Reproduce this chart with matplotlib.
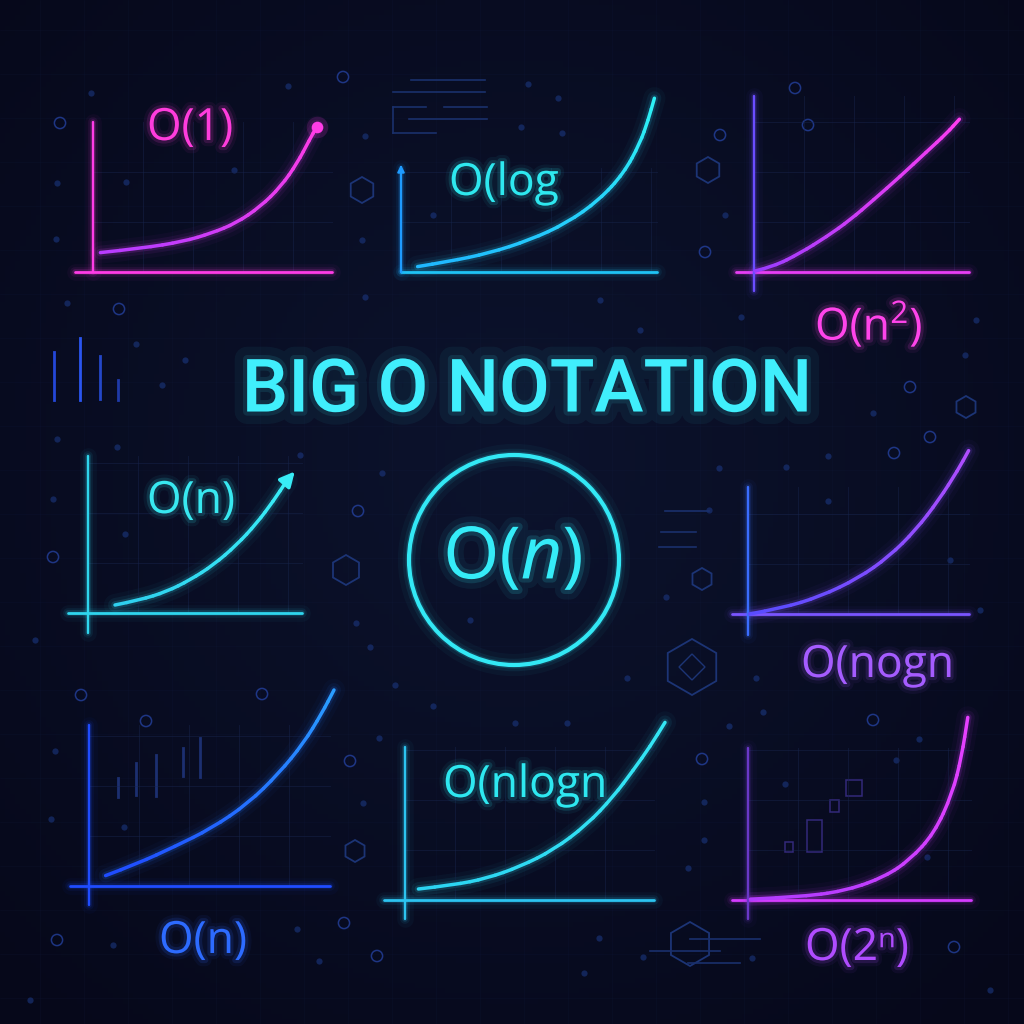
import numpy as np
import matplotlib.pyplot as plt
import matplotlib.patheffects as pe
from matplotlib.collections import LineCollection
from matplotlib.patches import Circle, RegularPolygon, Rectangle, PathPatch
from matplotlib.path import Path
from matplotlib.colors import to_rgb

plt.rcParams['font.family'] = ['Open Sans', 'DejaVu Sans']
plt.rcParams['mathtext.fontset'] = 'custom'
plt.rcParams['mathtext.rm'] = 'Open Sans'
plt.rcParams['mathtext.it'] = 'Open Sans:italic'

W = 1024

# ---- curve values per panel (n on x, cost on y) ----
o1_n = [0.37, 2.45, 4.50, 5.92, 7.15, 8.37, 9.39, 10.21, 10.82, 11.19]
o1_c = [0.97, 1.19, 1.52, 1.94, 2.44, 3.27, 4.27, 5.44, 6.60, 7.27]

log_n = [0.83, 2.36, 4.40, 6.44, 8.28, 9.91, 11.14, 11.95, 12.36, 12.67]
log_c = [0.27, 0.52, 0.94, 1.60, 2.44, 3.60, 4.94, 6.44, 7.60, 8.69]

sq_n = [0.05, 0.97, 2.30, 3.64, 4.80, 5.97, 7.30, 8.64, 9.64, 10.27]
sq_c = [0.05, 0.27, 0.94, 1.77, 2.60, 3.60, 4.77, 6.02, 6.94, 7.64]

lin_n = [1.35, 2.60, 3.93, 5.10, 6.27, 7.43, 8.43, 9.27, 9.93, 10.43]
lin_c = [0.40, 0.65, 1.07, 1.65, 2.40, 3.40, 4.48, 5.60, 6.60, 7.18]

nog_n = [0.07, 1.69, 3.60, 5.52, 7.05, 8.39, 9.54, 10.50, 11.03]
nog_c = [0.00, 0.29, 0.87, 1.79, 2.87, 4.20, 5.70, 7.20, 8.17]

lin2_n = [0.83, 2.45, 4.28, 6.12, 7.96, 9.49, 10.72, 11.64, 12.25]
lin2_c = [0.52, 1.13, 1.97, 2.88, 4.13, 5.63, 7.13, 8.63, 9.80]

nlog_n = [0.67, 2.42, 4.08, 5.75, 7.42, 9.08, 10.42, 11.42, 12.25, 13.00]
nlog_c = [0.55, 0.75, 1.08, 1.67, 2.50, 3.75, 5.17, 6.50, 7.67, 8.88]

exp_n = [0.12, 2.88, 5.02, 6.85, 8.08, 9.31, 10.22, 10.68, 10.99]
exp_c = [0.04, 0.17, 0.50, 1.17, 2.00, 3.33, 5.33, 7.17, 9.13]

labels = ['O(1)', 'O(log', r'O(n$^{2}$)', 'O(n)', 'O(nogn', 'O(n)', 'O(nlogn', 'O(2ⁿ)']

# panel layout: origin in pixels, axis extents in panel units, label anchor
panels = [
    dict(n=o1_n, c=o1_c, ox=93, oy=272, xa=(-0.9, 11.95), ya=(0, 7.5), lab=(2.7, 6.6),
         cy='#ff3ce6', cx='#ff3ce6', c0='#b83cff', c1='#ff3ce6', tc='#ff3cdc'),
    dict(n=log_n, c=log_c, ox=401, oy=272, xa=(0, 12.8), ya=(0, 5.2), lab=(2.4, 3.85),
         cy='#1e9bff', cx='#1fc3f5', c0='#1fb8ff', c1='#2ef0f5', tc='#2ee8ef'),
    dict(n=sq_n, c=sq_c, ox=754, oy=272, xa=(-0.9, 10.75), ya=(-0.95, 8.8), lab=(3.05, -3.4),
         cy='#6a4dff', cx='#e83ef5', c0='#9a3cff', c1='#ff3cf0', tc='#ff44ea'),
    dict(n=lin_n, c=lin_c, ox=88, oy=613, xa=(-1.0, 10.7), ya=(-1.0, 7.85), lab=(2.95, 5.0),
         cy='#2fd6ee', cx='#2fd6ee', c0='#2fd0ee', c1='#38ecf6', tc='#38e8f0'),
    dict(n=nog_n, c=nog_c, ox=748, oy=614, xa=(-0.8, 11.05), ya=(-1.05, 6.35), lab=(2.65, -3.15),
         cy='#3a6dff', cx='#7a55ff', c0='#5a4cff', c1='#b04dff', tc='#a55cff'),
    dict(n=lin2_n, c=lin2_c, ox=89, oy=886, xa=(-0.95, 12.05), ya=(-0.95, 8.05), lab=(3.5, -3.35),
         cy='#1f4cff', cx='#1f4cff', c0='#1f4cff', c1='#2a9dff', tc='#2d6bff'),
    dict(n=nlog_n, c=nlog_c, ox=405, oy=900, xa=(-1.05, 12.45), ya=(-0.95, 7.65), lab=(1.9, 5.15),
         cy='#2cc4f0', cx='#2cc4f0', c0='#2cd4f2', c1='#34e6f4', tc='#2ee8f0'),
    dict(n=exp_n, c=exp_c, ox=748, oy=900, xa=(-0.8, 11.15), ya=(-0.95, 7.6), lab=(2.85, -3.0),
         cy='#6a38c8', cx='#d53cff', c0='#b23cff', c1='#e640ff', tc='#b04cff'),
]

# background decorations (pixel positions)
dots = [(91, 93), (288, 86), (234, 170), (126, 182), (57, 183), (56, 239), (365, 136), (362, 240),
        (433, 215), (528, 84), (558, 98), (521, 127), (562, 133), (365, 297), (741, 317), (725, 215),
        (976, 320), (965, 355), (873, 413), (828, 456), (786, 467), (719, 468), (828, 501), (709, 510),
        (666, 597), (627, 678), (756, 678), (395, 685), (382, 473), (67, 303), (136, 344), (185, 360),
        (162, 385), (57, 439), (117, 447), (53, 499), (125, 534), (356, 623), (370, 647), (55, 751),
        (51, 819), (124, 827), (379, 738), (433, 706), (515, 723), (567, 723), (763, 712), (729, 726),
        (785, 784), (688, 868), (704, 802), (704, 840), (363, 803), (599, 938), (297, 929), (113, 945),
        (319, 961), (752, 958), (643, 957), (584, 973), (919, 739), (896, 760), (927, 857), (470, 620),
        (600, 300), (640, 330), (300, 455), (950, 560), (980, 610), (35, 640), (30, 1000), (990, 990)]
rings = [(60, 123), (343, 77), (795, 88), (808, 125), (720, 135), (705, 252), (910, 387), (930, 437),
         (894, 453), (119, 309), (358, 511), (53, 557), (81, 695), (262, 694), (146, 721), (350, 761),
         (702, 759), (873, 720), (344, 923), (57, 940), (377, 956), (954, 947)]
hexes = [(362, 190, 13), (708, 170, 13), (966, 407, 11), (702, 579, 11), (692, 667, 28),
         (346, 570, 15), (355, 851, 11), (690, 944, 22)]


def mix(c0, c1, k):
    a, b = np.array(to_rgb(c0)), np.array(to_rgb(c1))
    return [tuple((1 - t) * a + t * b) for t in np.linspace(0, 1, k)]


def smooth_path(x, y):
    # quadratic bezier through the midpoints, the read points act as control points
    pts = np.column_stack([x, y])
    verts, codes = [pts[0]], [Path.MOVETO]
    for k in range(1, len(pts) - 1):
        verts += [pts[k], (pts[k] + pts[k + 1]) / 2]
        codes += [Path.CURVE3, Path.CURVE3]
    verts.append(pts[-1])
    codes.append(Path.LINETO)
    return Path(verts, codes)


def glow_plot(ax, x, y, color, lw=2.0):
    for w, al in [(12, 0.04), (7, 0.08), (4, 0.16)]:
        ax.plot(x, y, color=color, lw=w, alpha=al, solid_capstyle='round', clip_on=False)
    ax.plot(x, y, color=color, lw=lw, solid_capstyle='round', clip_on=False)


def glow_curve(ax, x, y, c0, c1, lw=2.5):
    path = smooth_path(x, y)
    mid = mix(c0, c1, 3)[1]
    for w, al in [(16, 0.035), (10, 0.07), (5.5, 0.15)]:
        ax.add_patch(PathPatch(path, fill=False, ec=mid, lw=w, alpha=al, capstyle='round', clip_on=False))
    disp = path.to_polygons(transform=ax.transData, closed_only=False)[0]
    pts = ax.transData.inverted().transform(disp)
    segs = np.stack([pts[:-1], pts[1:]], axis=1)
    ax.add_collection(LineCollection(segs, colors=mix(c0, c1, len(segs)), linewidths=lw,
                                     capstyle='round', joinstyle='round', clip_on=False))


def glow_text(color, w1=9, w2=4.5, a1=0.06, a2=0.14):
    return [pe.Stroke(linewidth=w1, foreground=color, alpha=a1),
            pe.Stroke(linewidth=w2, foreground=color, alpha=a2), pe.Normal()]


fig = plt.figure(figsize=(10.24, 10.24), dpi=100)
bg = fig.add_axes([0, 0, 1, 1])
bg.set_xlim(0, W)
bg.set_ylim(W, 0)
bg.axis('off')

# vignette background
yy, xx = np.mgrid[0:1:200j, 0:1:200j]
r = np.sqrt((xx - 0.5) ** 2 + (yy - 0.45) ** 2)
base = np.array(to_rgb('#0c132d'))
edge = np.array(to_rgb('#06081a'))
t = np.clip(r / 0.72, 0, 1)[..., None]
bg.imshow(base * (1 - t) + edge * t, extent=(0, W, W, 0), aspect='auto', zorder=0)

# faint background grid
for gx in range(40, W, 44):
    bg.axvline(gx, color='#16224a', lw=0.5, alpha=0.18, zorder=1)
for gy in range(30, W, 44):
    bg.axhline(gy, color='#16224a', lw=0.5, alpha=0.18, zorder=1)

dx, dy = zip(*dots)
bg.scatter(dx, dy, s=20, color='#1b3780', alpha=0.6, lw=0, zorder=2)
rx, ry = zip(*rings)
bg.scatter(rx, ry, s=65, facecolors='none', edgecolors='#2848b0', lw=1.1, alpha=0.7, zorder=2)
for hx, hy, hs in hexes:
    bg.add_patch(RegularPolygon((hx, hy), 6, radius=hs, fill=False, ec='#1c3475', lw=1.3, zorder=2))
bg.add_patch(RegularPolygon((692, 667), 4, radius=13, fill=False, ec='#1c3475', lw=1.0, zorder=2))

# decorative line groups
for x0, x1, y0 in [(411, 485, 80), (393, 485, 92), (444, 487, 107), (393, 426, 107),
                   (409, 487, 119), (393, 436, 133), (665, 709, 511), (661, 696, 532),
                   (659, 696, 547), (690, 760, 939), (650, 720, 951), (688, 740, 963)]:
    bg.plot([x0, x1], [y0, y0], color='#1a306c', lw=1.2, zorder=2)
bg.plot([393, 393], [107, 133], color='#1a306c', lw=1.2, zorder=2)
for bx, b0, b1, bc in [(54, 352, 400, '#2447d8'), (80, 338, 400, '#2a55f0'), (100, 356, 399, '#2447c8'),
                       (118, 380, 400, '#1f3aa8'), (118, 778, 797, '#1c2f70'), (136, 763, 795, '#1c2f70'),
                       (156, 755, 796, '#1c2f70'), (183, 748, 776, '#1c2f70'), (200, 738, 777, '#1c2f70')]:
    bg.plot([bx, bx], [b0, b1], color=bc, lw=2, zorder=2)
for rx0, ry0, rw, rh in [(846, 780, 16, 16), (807, 820, 15, 32), (785, 842, 8, 10), (830, 800, 9, 12)]:
    bg.add_patch(Rectangle((rx0, ry0), rw, rh, fill=False, ec='#33297a', lw=1.1, zorder=2))

# panels
S = 20
for i, p in enumerate(panels):
    ax = fig.add_axes([0, 0, 1, 1])
    ax.set_xlim(-p['ox'] / S, (W - p['ox']) / S)
    ax.set_ylim(-(W - p['oy']) / S, p['oy'] / S)
    ax.axis('off')
    ax.patch.set_alpha(0)
    for gx in np.arange(2.5, p['xa'][1], 2.5):
        ax.plot([gx, gx], [0, p['ya'][1]], color='#18264f', lw=0.7, alpha=0.45)
    for gy in np.arange(2.5, p['ya'][1], 2.5):
        ax.plot([0, p['xa'][1]], [gy, gy], color='#18264f', lw=0.7, alpha=0.45)
    glow_plot(ax, [p['xa'][0], p['xa'][1]], [0, 0], p['cx'])
    glow_plot(ax, [0, 0], [p['ya'][0], p['ya'][1]], p['cy'], lw=1.7)
    if i == 3:
        glow_curve(ax, p['n'][:-1], p['c'][:-1], p['c0'], p['c1'])
        ax.annotate('', xy=(p['n'][-1], p['c'][-1]), xytext=(p['n'][-2], p['c'][-2]),
                    arrowprops=dict(arrowstyle='-|>', color=p['c1'], lw=2.5, mutation_scale=22))
    else:
        glow_curve(ax, p['n'], p['c'], p['c0'], p['c1'])
    if i == 0:
        ax.scatter([p['n'][-1]], [p['c'][-1]], s=240, color=p['c1'], alpha=0.15, lw=0)
        ax.scatter([p['n'][-1]], [p['c'][-1]], s=70, color=p['c1'], lw=0, zorder=5)
    if i == 1:
        ax.annotate('', xy=(0, p['ya'][1] + 0.3), xytext=(0, p['ya'][1] - 0.2),
                    arrowprops=dict(arrowstyle='-|>', color=p['cy'], lw=1.5, mutation_scale=10))
    ax.text(p['lab'][0], p['lab'][1], labels[i], ha='left', va='baseline', fontsize=32,
            color=p['tc'], path_effects=glow_text(p['tc']))

# title and central badge
bg.text(527, 391, 'BIG O NOTATION', ha='center', va='center', fontsize=53, weight='medium',
        family=['Roboto', 'DejaVu Sans'], color='#40eefc',
        path_effects=glow_text('#40eefc', 18, 6, 0.05, 0.10), zorder=6)
for w, al in [(16, 0.04), (9, 0.08), (5, 0.16)]:
    bg.add_patch(Circle((514, 560), 105, fill=False, ec='#2fe3f2', lw=w, alpha=al, zorder=5))
bg.add_patch(Circle((514, 560), 105, fill=False, ec='#33e8f5', lw=3, zorder=6))
bg.text(513, 560, r'O($\mathit{n}$)', ha='center', va='center', fontsize=52, color='#35ecf8',
        path_effects=glow_text('#35ecf8', 14, 6), zorder=6)

fig.savefig('out.png', dpi=100, facecolor='#0a0e24')
